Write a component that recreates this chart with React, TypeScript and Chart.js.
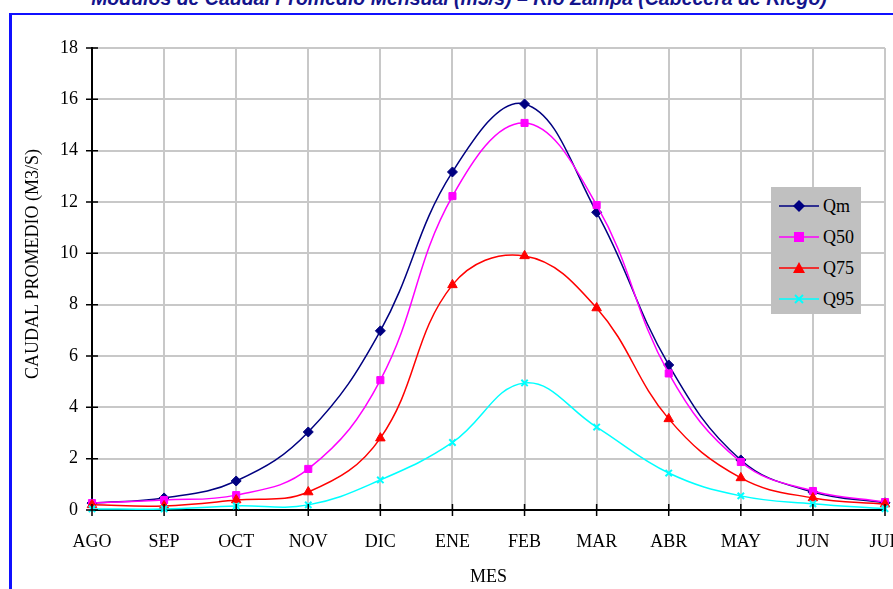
import React, { useEffect, useRef } from "react";
import { Chart, registerables } from "chart.js";

Chart.register(...registerables);

const months = ["AGO", "SEP", "OCT", "NOV", "DIC", "ENE", "FEB", "MAR", "ABR", "MAY", "JUN", "JUL"];
const qm = [0.27, 0.47, 1.13, 3.04, 6.98, 13.17, 15.82, 11.6, 5.65, 1.95, 0.7, 0.28];
const q50 = [0.27, 0.39, 0.58, 1.6, 5.06, 12.23, 15.08, 11.88, 5.32, 1.87, 0.74, 0.31];
const q75 = [0.2, 0.16, 0.39, 0.7, 2.8, 8.77, 9.9, 7.87, 3.55, 1.25, 0.47, 0.23];
const q95 = [0.04, 0.04, 0.16, 0.2, 1.17, 2.63, 4.95, 3.23, 1.44, 0.55, 0.24, 0.05];

const titleText = "Modulos de Caudal Promedio Mensual (m3/s) – Río Zampa (Cabecera de Riego)";
const yTitle = "CAUDAL PROMEDIO (M3/S)";
const xTitle = "MES";

const SERIF = "'Liberation Serif', 'Times New Roman', serif";

const legendItems = [
  { label: "Qm", color: "#000080", marker: "diamond" },
  { label: "Q50", color: "#FF00FF", marker: "square" },
  { label: "Q75", color: "#FF0000", marker: "triangle" },
  { label: "Q95", color: "#00FFFF", marker: "cross" },
];

const crossTicks = {
  id: "crossTicks",
  afterDatasetsDraw(chart: any) {
    const { ctx, scales } = chart;
    const x = scales.x;
    const y = scales.y;
    ctx.save();
    ctx.strokeStyle = "#000";
    ctx.lineWidth = 1.5;
    ctx.beginPath();
    y.ticks.forEach((_t: any, i: number) => {
      const py = y.getPixelForTick(i);
      ctx.moveTo(x.left - 6, py);
      ctx.lineTo(x.left + 6, py);
    });
    x.ticks.forEach((_t: any, i: number) => {
      const px = x.getPixelForTick(i);
      ctx.moveTo(px, y.bottom - 6);
      ctx.lineTo(px, y.bottom + 6);
    });
    ctx.stroke();
    ctx.restore();
  },
  afterDraw(chart: any) {
    const { ctx } = chart;
    ctx.save();
    ctx.translate(33, 264);
    ctx.rotate(-Math.PI / 2);
    ctx.font = `18px ${SERIF}`;
    ctx.fillStyle = "#000";
    ctx.textAlign = "center";
    ctx.textBaseline = "middle";
    ctx.fillText(yTitle, 0, 0);
    ctx.restore();
  },
};

function Marker({ type, color, cx, cy }: { type: string; color: string; cx: number; cy: number }) {
  if (type === "diamond")
    return <polygon points={`${cx},${cy - 6} ${cx + 6},${cy} ${cx},${cy + 6} ${cx - 6},${cy}`} fill={color} />;
  if (type === "square") return <rect x={cx - 5} y={cy - 5} width={10} height={10} fill={color} />;
  if (type === "triangle")
    return <polygon points={`${cx},${cy - 6} ${cx + 6},${cy + 5} ${cx - 6},${cy + 5}`} fill={color} />;
  return (
    <g stroke={color} strokeWidth={2}>
      <line x1={cx - 4} y1={cy - 4} x2={cx + 4} y2={cy + 4} />
      <line x1={cx - 4} y1={cy + 4} x2={cx + 4} y2={cy - 4} />
    </g>
  );
}

export default function App() {
  const canvasRef = useRef<HTMLCanvasElement | null>(null);

  useEffect(() => {
    if (!canvasRef.current) return;
    const mk = (label: string, data: number[], color: string, style: any, radius: number, order: number) => ({
      label,
      data,
      borderColor: color,
      backgroundColor: color,
      borderWidth: 1.5,
      pointStyle: style,
      pointRadius: radius,
      pointBorderWidth: style === "crossRot" ? 2 : 1,
      tension: 0.4,
      clip: false as any,
      order,
    });
    const chart = new Chart(canvasRef.current, {
      type: "line",
      data: {
        labels: months,
        datasets: [
          mk("Qm", qm, "#000080", "rectRot", 5, 4),
          mk("Q50", q50, "#FF00FF", "rect", 5, 3),
          mk("Q75", q75, "#FF0000", "triangle", 5.5, 2),
          mk("Q95", q95, "#00FFFF", "crossRot", 4.5, 1),
        ],
      },
      options: {
        responsive: false,
        animation: false,
        layout: { padding: { top: 48, left: 0, right: 55, bottom: 0 } },
        plugins: { legend: { display: false }, tooltip: { enabled: false }, title: { display: false } },
        scales: {
          x: {
            type: "category",
            offset: false,
            afterFit: (s: any) => {
              s.height = 79;
            },
            grid: { color: "#c8c8c8", lineWidth: 2, drawTicks: false, offset: false },
            border: { color: "#000", width: 2 },
            ticks: { color: "#000", padding: 21, font: { family: SERIF, size: 18 }, maxRotation: 0, autoSkip: false },
            title: { display: true, text: xTitle, color: "#000", font: { family: SERIF, size: 18 }, padding: { top: 0, bottom: 1 } },
          },
          y: {
            min: 0,
            max: 18,
            afterFit: (s: any) => {
              s.width = 92;
            },
            grid: { color: "#c8c8c8", lineWidth: 2, drawTicks: false },
            border: { color: "#000", width: 2 },
            ticks: { stepSize: 2, color: "#000", padding: 14, font: { family: SERIF, size: 18 } },
            title: { display: false },
          },
        },
      },
      plugins: [crossTicks],
    });
    return () => chart.destroy();
  }, []);

  return (
    <div style={{ position: "fixed", left: 0, top: 0, width: 893, height: 589, overflow: "hidden", background: "#fff" }}>
      <div
        style={{
          position: "absolute",
          top: -11.5,
          left: 459 - 500,
          width: 1000,
          textAlign: "center",
          font: "italic bold 19.5px 'Liberation Sans', Arial, sans-serif",
          lineHeight: "19.5px",
          color: "#14148c",
          whiteSpace: "nowrap",
        }}
      >
        {titleText}
      </div>
      <div
        style={{
          position: "absolute",
          left: 9,
          top: 13,
          width: 1000,
          height: 1000,
          borderLeft: "3px solid #1010ff",
          borderTop: "2px solid #1010ff",
        }}
      />
      <canvas ref={canvasRef} width={940} height={589} style={{ position: "absolute", left: 0, top: 0, width: 940, height: 589 }} />
      <svg style={{ position: "absolute", left: 771, top: 187 }} width={90} height={127}>
        <rect x={0} y={0} width={90} height={127} fill="#c0c0c0" />
        {legendItems.map((it, i) => {
          const cy = 19 + i * 31;
          return (
            <g key={it.label}>
              <line x1={8} y1={cy} x2={48} y2={cy} stroke={it.color} strokeWidth={1.5} />
              <Marker type={it.marker} color={it.color} cx={28} cy={cy} />
              <text x={52} y={cy + 6} fontFamily={SERIF} fontSize={18} fill="#000">
                {it.label}
              </text>
            </g>
          );
        })}
      </svg>
    </div>
  );
}
